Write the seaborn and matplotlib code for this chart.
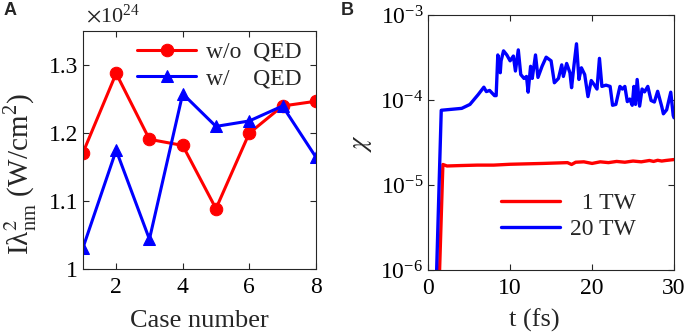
import numpy as np
import pandas as pd
import matplotlib
matplotlib.use("Agg")
import matplotlib.pyplot as plt
import seaborn as sns

# panel A: intensity per case
case_number = [1, 2, 3, 4, 5, 6, 7, 8]
intensity_wo_qed = [1.171e24, 1.288e24, 1.191e24, 1.182e24, 1.089e24, 1.200e24, 1.240e24, 1.247e24]
intensity_w_qed = [1.031e24, 1.175e24, 1.044e24, 1.258e24, 1.210e24, 1.218e24, 1.240e24, 1.165e24]

# panel B: chi vs time
t_1tw = [1.3, 1.8, 2.3, 4, 6, 8, 10, 12, 14, 17, 17.5, 18, 19, 20, 21, 22, 23, 24,
         25, 26, 27, 27.5, 28, 28.5, 29, 30]
chi_1tw = [5e-7, 1.75e-5, 1.68e-5, 1.70e-5, 1.72e-5, 1.72e-5, 1.76e-5, 1.78e-5, 1.80e-5,
           1.84e-5, 1.75e-5, 1.86e-5, 1.88e-5, 1.80e-5, 1.88e-5, 1.84e-5, 1.90e-5, 1.86e-5,
           1.92e-5, 1.88e-5, 1.95e-5, 1.90e-5, 1.96e-5, 1.92e-5, 1.95e-5, 2.0e-5]
t_20tw = [0.95, 1.6, 4.1, 5.1, 6.1, 6.8, 7.1, 7.5, 8.1, 8.3, 8.5, 8.8, 8.9, 9.2, 9.6, 10.0,
          10.4, 10.65, 11.0, 11.3, 11.7, 12.0, 12.2, 12.5, 12.7, 13.1, 13.4, 13.9, 14.4, 15.0,
          15.4, 15.9, 16.3, 16.5, 16.9, 17.3, 17.5, 17.8, 18.1, 18.4, 18.7, 19.1, 19.5, 19.9,
          20.3, 20.6, 20.9, 21.2, 21.7, 22.2, 22.5, 22.9, 23.4, 23.7, 24.0, 24.3, 24.6, 24.9,
          25.1, 25.3, 25.5, 25.8, 26.1, 26.4, 26.8, 27.2, 27.6, 28.0, 28.5, 28.7, 29.1, 29.6,
          29.9, 30.0]
chi_20tw = [5e-7, 7.6e-5, 8.0e-5, 8.9e-5, 1.16e-4, 1.42e-4, 1.26e-4, 1.30e-4, 1.13e-4, 1.13e-4,
            3.4e-4, 2.1e-4, 2.9e-4, 3.8e-4, 3.4e-4, 2.9e-4, 3.3e-4, 2.2e-4, 3.9e-4, 2.0e-4,
            1.8e-4, 1.9e-4, 1.24e-4, 2.5e-4, 1.8e-4, 3.4e-4, 1.85e-4, 2.5e-4, 3.2e-4, 2.9e-4,
            1.6e-4, 1.8e-4, 2.6e-4, 1.9e-4, 2.7e-4, 2.1e-4, 1.4e-4, 2.6e-4, 4.6e-4, 1.75e-4,
            2.4e-4, 2.0e-4, 1.1e-4, 1.7e-4, 1.5e-4, 1.35e-4, 3.1e-4, 1.45e-4, 1.5e-4, 1.45e-4,
            8.7e-5, 8.9e-5, 1.45e-4, 1.35e-4, 1.45e-4, 9.6e-5, 1.03e-4, 8.7e-5, 1.45e-4, 8.9e-5,
            1.75e-4, 8.5e-5, 1.35e-4, 1.25e-4, 1.45e-4, 9.9e-5, 9.5e-5, 1.27e-4, 8.4e-5, 6.9e-5,
            7.7e-5, 1.24e-4, 6.6e-5, 6.2e-5]

sns.set_style("ticks")
plt.rcParams['font.family'] = ['Liberation Serif', 'DejaVu Serif']
plt.rcParams['mathtext.fontset'] = 'stix'
plt.rcParams['axes.edgecolor'] = '#262626'
plt.rcParams['axes.linewidth'] = 0.8

fig = plt.figure(figsize=(6.85, 3.36), dpi=100)
axA = fig.add_axes([0.121, 0.199, 0.340, 0.708])
axB = fig.add_axes([0.625, 0.196, 0.359, 0.759])

dfA = pd.DataFrame({
    'case': case_number * 2,
    'intensity': intensity_wo_qed + intensity_w_qed,
    'run': ['w/o  QED'] * 8 + ['w/    QED'] * 8,
})
sns.lineplot(data=dfA, x='case', y='intensity', hue='run', style='run',
             palette=['#ff0000', '#0000ff'], markers=['o', '^'], dashes=False,
             estimator=None, sort=False, lw=2.2, ms=9, ax=axA)
for line in axA.lines:
    line.set_markeredgecolor(line.get_color())
axA.set_xlim(1, 8)
axA.set_ylim(1.0e24, 1.35e24)
axA.set_xticks([2, 4, 6, 8])
axA.set_yticks([1.0e24, 1.1e24, 1.2e24, 1.3e24])
axA.yaxis.set_major_formatter(plt.FuncFormatter(lambda v, _: '{:g}'.format(round(v / 1e24, 2))))
axA.text(0.015, 1.015, r'$\times\mathdefault{10^{24}}$', transform=axA.transAxes,
         fontsize=16, ha='left', va='bottom')
axA.set_xlabel('Case number', fontsize=19)
axA.set_ylabel(r'I$\mathdefault{\lambda}^2_{\mathdefault{nm}}$ (W/cm$^\mathdefault{2}$)', fontsize=21)
axA.yaxis.set_label_coords(-0.19, 0.4)
axA.xaxis.set_label_coords(0.5, -0.17)
axA.legend(frameon=False, fontsize=17, loc='upper right', bbox_to_anchor=(1.03, 1.047),
           handlelength=2.5, handletextpad=0.4, labelspacing=0.2)

dfB = pd.DataFrame({
    't': t_1tw + t_20tw,
    'chi': chi_1tw + chi_20tw,
    'power': ['  1 TW'] * len(t_1tw) + ['20 TW'] * len(t_20tw),
})
sns.lineplot(data=dfB, x='t', y='chi', hue='power', palette=['#ff0000', '#0000ff'],
             estimator=None, sort=False, lw=2.4, ax=axB)
axB.set_yscale('log')
axB.set_xlim(0, 30)
axB.set_ylim(1e-6, 1e-3)
axB.set_xticks([0, 10, 20, 30])
axB.minorticks_off()
axB.set_xlabel('t (fs)', fontsize=19)
axB.set_ylabel(r'$\chi$', fontsize=19)
axB.yaxis.set_label_coords(-0.22, 0.5)
axB.xaxis.set_label_coords(0.43, -0.15)
axB.legend(frameon=False, fontsize=17, loc='lower right', bbox_to_anchor=(0.93, 0.033),
           handlelength=2.5, handletextpad=0.4, labelspacing=0.2)

for ax in (axA, axB):
    ax.tick_params(direction='in', top=True, right=True, length=4, width=0.8,
                   labelsize=17, colors='#262626', labelcolor='black')
    ax.tick_params(axis='x', pad=6)

fig.text(0.005, 0.955, 'A', fontsize=13, fontweight='bold', family='Liberation Sans')
fig.text(0.498, 0.955, 'B', fontsize=13, fontweight='bold', family='Liberation Sans')

fig.savefig('out.png', dpi=100)
